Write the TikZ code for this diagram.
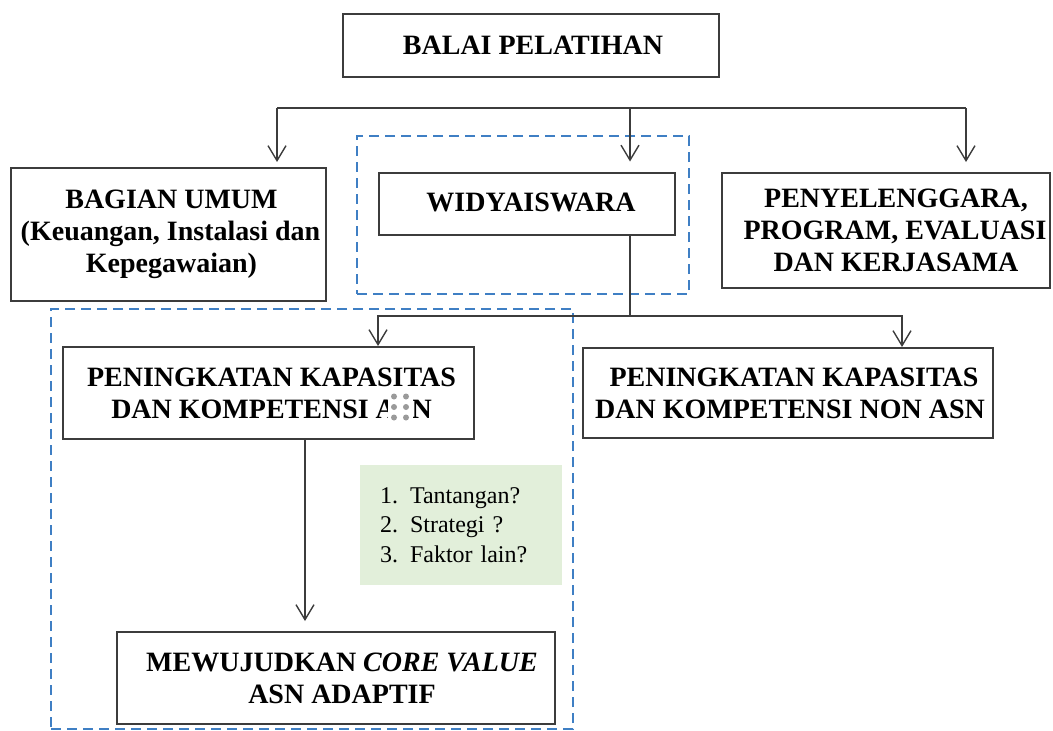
\documentclass[tikz,border=0pt]{standalone}
\usepackage{fontspec}
\setmainfont{Liberation Serif}
\usetikzlibrary{arrows.meta}
\definecolor{boxline}{HTML}{3C3C3C}
\definecolor{dashblue}{HTML}{3F7FC4}
\definecolor{greenfill}{HTML}{E2EFDA}
\definecolor{dotgray}{HTML}{9A9A9A}
\newcommand{\rs}[1]{\hspace*{#1pt}}
\begin{document}
\begin{tikzpicture}[x=1pt,y=-1pt,
  box/.style={draw=boxline, line width=2pt, fill=white, rectangle, inner sep=0pt,
    align=center, font=\fontsize{28}{32}\selectfont\bfseries},
  conn/.style={draw=boxline, line width=1.4pt},
  arr/.style={conn, -{Straight Barb[length=15pt,width=18pt,line width=1.4pt]}},
  dbox/.style={draw=dashblue, line width=2.5pt, dash pattern=on 10pt off 6pt, rectangle, inner sep=0pt},
  listbox/.style={fill=greenfill, rectangle, inner ysep=0pt, inner xsep=20pt, align=left,
    font=\fontsize{24}{29.5}\selectfont},
]
\useasboundingbox (0,0) rectangle (1053,731);

% grouping frames
\node[dbox, minimum width=332pt, minimum height=158pt] (grpW) at (523,215) {};
\node[dbox, minimum width=522pt, minimum height=420pt] (grpA) at (312,519) {};

% boxes
\node[box, minimum width=376pt, minimum height=63pt] (balai) at (531,45.5) {\rs{4}BALAI PELATIHAN};
\node[box, minimum width=315pt, minimum height=133pt] (bagian) at (168.5,234.5)
  {\rs{6}BAGIAN UMUM\\\rs{4}(Keuangan, Instalasi dan\\\rs{6}Kepegawaian)};
\node[box, minimum width=296pt, minimum height=62pt] (widya) at (527,203.5) {\raisebox{3pt}{\rs{8}WIDYAISWARA}};
\node[box, minimum width=328pt, minimum height=115pt] (peny) at (886,230.5)
  {\rs{20}PENYELENGGARA,\\\rs{18}PROGRAM, EVALUASI\\\rs{20}DAN KERJASAMA};
\node[box, minimum width=411pt, minimum height=92pt] (penasn) at (268.5,393)
  {\rs{6}PENINGKATAN KAPASITAS\\\rs{6}DAN KOMPETENSI ASN};
\node[box, minimum width=410pt, minimum height=90pt] (nonasn) at (788,393)
  {\rs{12}PENINGKATAN KAPASITAS\\\rs{4}DAN KOMPETENSI NON ASN};
\node[box, minimum width=438pt, minimum height=92pt] (mew) at (336,678)
  {\rs{12}MEWUJUDKAN \textit{CORE VALUE}\\\rs{12}ASN ADAPTIF};
\node[listbox, minimum width=202pt, minimum height=120pt, text width=162pt] (qs) at (461,525)
  {\makebox[30pt][l]{1.}Tantangan?\\\makebox[30pt][l]{2.}Strategi ?\\\makebox[30pt][l]{3.}Faktor lain?};

% drag-handle glyph over "ASN"
\node[fill=white, minimum width=25pt, minimum height=32pt, inner sep=0pt] (handle) at (400,407) {};
\foreach \dx in {-6,6} \foreach \dy in {-10.5,0,10.5}
  \fill[dotgray] ([xshift=\dx pt, yshift=\dy pt]handle.center) circle (3pt);

% connectors from the top
\coordinate (busL) at (277,108);
\coordinate (busM) at (630,108);
\coordinate (busR) at (966,108);
\draw[conn] (busL) -- (busR);
\draw[arr, shorten >=5pt] (busL) -- (busL |- bagian.north);
\draw[arr, shorten >=10pt] (busM) -- (busM |- widya.north);
\draw[arr, shorten >=10pt] (busR) -- (busR |- peny.north);

% widyaiswara branches
\coordinate (split) at (630,316);
\coordinate (xa) at (378,316);
\coordinate (xb) at (902,316);
\draw[conn] (split |- widya.south) -- (split);
\draw[arr] (split) -| (penasn.north -| xa);
\draw[arr] (split) -| (nonasn.north -| xb);

% down to core value
\coordinate (xc) at (305,0);
\draw[arr, shorten >=10pt] (penasn.south -| xc) -- (mew.north -| xc);
\end{tikzpicture}
\end{document}
